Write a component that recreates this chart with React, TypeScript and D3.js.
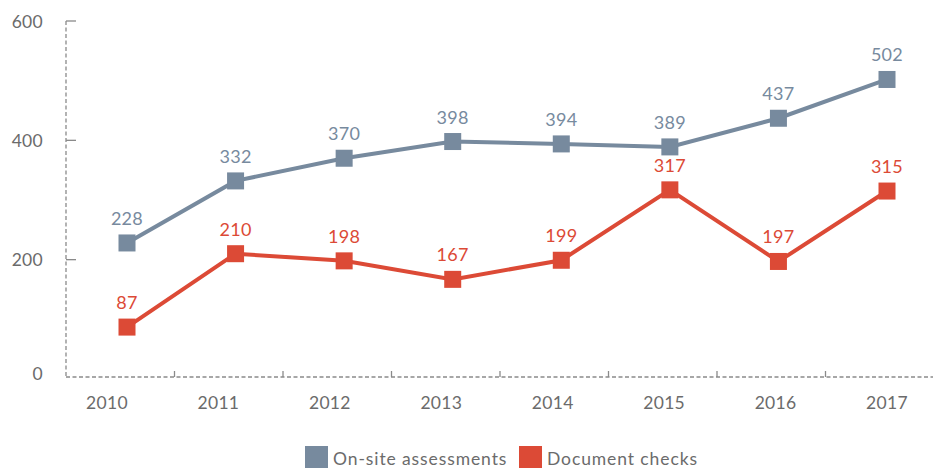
import React from "react";
import * as d3 from "d3";

const years = ["2010", "2011", "2012", "2013", "2014", "2015", "2016", "2017"];
const onSite = [228, 332, 370, 398, 394, 389, 437, 502];
const docChecks = [87, 210, 198, 167, 199, 317, 197, 315];
const yTicks = [0, 200, 400, 600];
const seriesNames = ["On-site assessments", "Document checks"];

const GREY = "#778a9e";
const RED = "#dc4a36";
const TEXT = "#6b6b6b";
const AXIS = "#8a8a8a";
const FONT = "Lato, 'Open Sans', sans-serif";

export default function App() {
  const W = 933, H = 471;
  const y = d3.scaleLinear().domain([0, 600]).range([379, 21]);
  const xMark = d3.scalePoint<string>().domain(years).range([127, 887]);
  const xLab = d3.scalePoint<string>().domain(years).range([107, 887]);
  const xB = d3.scaleLinear().domain([0, 8]).range([66, 934]);
  const axisY = 377;
  const axisX = 66;
  const topY = 21;
  const line = d3.line<number>().x((_, i) => xMark(years[i])!).y((d) => y(d));
  const series = [
    { name: seriesNames[0], data: onSite, color: GREY },
    { name: seriesNames[1], data: docChecks, color: RED },
  ];
  const ms = 17;
  return (
    <svg width={W} height={H} style={{ position: "absolute", left: 0, top: 0 }} fontFamily={FONT}>
      {/* y axis */}
      <line x1={axisX} x2={axisX} y1={topY} y2={axisY} stroke={AXIS} strokeWidth={1.3} strokeDasharray="4,2.5" />
      {yTicks.filter((t) => t > 0).map((t) => (
        <line key={t} x1={axisX} x2={axisX + 10} y1={t === 600 ? topY : y(t)} y2={t === 600 ? topY : y(t)} stroke={AXIS} strokeWidth={1.3} />
      ))}
      {yTicks.map((t) => (
        <text key={t} x={43} y={t === 0 ? axisY - 4 : t === 600 ? topY : y(t)} textAnchor="end" dominantBaseline="central" fontSize={17.5} letterSpacing={0.3} fill={TEXT}>
          {t}
        </text>
      ))}
      {/* x axis */}
      <line x1={axisX} x2={W} y1={axisY} y2={axisY} stroke={AXIS} strokeWidth={1.3} strokeDasharray="4,2.5" />
      {d3.range(1, 8).map((i) => (
        <line key={i} x1={xB(i)} x2={xB(i)} y1={axisY} y2={axisY - 6} stroke={AXIS} strokeWidth={1.3} />
      ))}
      {years.map((yr) => (
        <text key={yr} x={xLab(yr)} y={402} textAnchor="middle" dominantBaseline="central" fontSize={17.5} letterSpacing={0.3} fill={TEXT}>
          {yr}
        </text>
      ))}
      {/* series */}
      {series.map((s) => (
        <g key={s.name}>
          <path d={line(s.data)!} fill="none" stroke={s.color} strokeWidth={4} />
          {s.data.map((v, i) => (
            <rect key={i} x={xMark(years[i])! - ms / 2} y={y(v) - ms / 2} width={ms} height={ms} fill={s.color} />
          ))}
          {s.data.map((v, i) => (
            <text key={"t" + i} x={xMark(years[i])} y={y(v) - 25} textAnchor="middle" dominantBaseline="central" fontSize={18} letterSpacing={0.3} fill={s.color}>
              {v}
            </text>
          ))}
        </g>
      ))}
      {/* legend */}
      <rect x={305} y={446} width={23} height={22} fill={GREY} />
      <text x={333} y={458} dominantBaseline="central" fontSize={17.5} letterSpacing={0.9} fill={TEXT}>{seriesNames[0]}</text>
      <rect x={519} y={446} width={23} height={22} fill={RED} />
      <text x={547} y={458} dominantBaseline="central" fontSize={17.5} letterSpacing={0.9} fill={TEXT}>{seriesNames[1]}</text>
    </svg>
  );
}
